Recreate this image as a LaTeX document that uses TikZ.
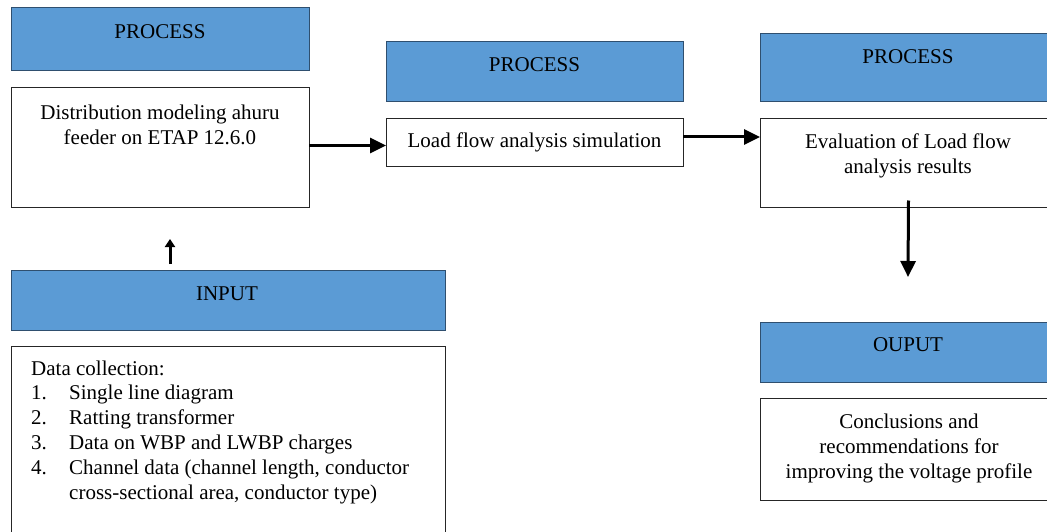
\documentclass[tikz,border=0pt]{standalone}
\usepackage{fontspec}
\setmainfont{Liberation Serif}
\usetikzlibrary{arrows.meta}
\definecolor{hdrblue}{HTML}{5B9BD5}
\definecolor{hdrline}{HTML}{2F4F6F}
\tikzset{
  hdrbox/.style={draw=hdrline, fill=hdrblue, line width=1pt, inner sep=0pt, outer sep=0pt},
  whitebox/.style={draw=black!85, fill=white, line width=1pt, inner sep=0pt, outer sep=0pt},
  txt/.style={inner sep=0pt, font=\fontsize{21}{24.8}\selectfont, align=center},
  ltxt/.style={inner sep=0pt, font=\fontsize{21}{24.8}\selectfont, anchor=base west},
  flow/.style={line width=3pt, -{Triangle[length=16pt,width=15pt]}},
  smallflow/.style={line width=3pt, -{Triangle[length=8pt,width=10pt]}}
}
\begin{document}
\begin{tikzpicture}[x=1pt,y=-1pt]
\useasboundingbox (0,0) rectangle (1047,532);
\begin{scope}
\clip (0,0) rectangle (1047,532);
% column 1
\node[hdrbox, minimum width=298, minimum height=63] (h1) at (160,39.5) {};
\node[txt] (h1t) at (160,32) {PROCESS};
\node[whitebox, minimum width=298, minimum height=120] (b1) at (160,147.5) {};
\node[txt] (b1t) at (160,125) {Distribution modeling ahuru\\feeder on ETAP 12.6.0};
% column 2
\node[hdrbox, minimum width=297, minimum height=60] (h2) at (534.5,72) {};
\node[txt] (h2t) at (534.5,65) {PROCESS};
\node[whitebox, minimum width=297, minimum height=48] (b2) at (534.5,143) {};
\node[txt] (b2t) at (534.5,142.5) {Load flow analysis simulation};
% column 3
\node[hdrbox, minimum width=297, minimum height=68] (h3) at (908.5,68) {};
\node[txt] (h3t) at (908,57) {PROCESS};
\node[whitebox, minimum width=297, minimum height=89] (b3) at (908.5,163) {};
\node[txt] (b3t) at (908,155.5) {Evaluation of Load flow\\analysis results};
\node[hdrbox, minimum width=297, minimum height=60] (h4) at (908.5,352) {};
\node[txt] (h4t) at (908,345) {OUPUT};
\node[whitebox, minimum width=297, minimum height=102] (b4) at (908.5,449) {};
\node[txt] (b4t) at (909,448.5) {Conclusions and\\recommendations for\\improving the voltage profile};
% input
\node[hdrbox, minimum width=434, minimum height=60] (h5) at (228,300) {};
\node[txt] (h5t) at (227,294) {INPUT};
\node[whitebox, minimum width=434, minimum height=200] (b5) at (228,446) {};
\node[ltxt] (l0) at (31,375) {Data collection:};
\node[ltxt] (l1) at (31,399.8) {1.};
\node[ltxt] (l1b) at (69,399.8) {Single line diagram};
\node[ltxt] (l2) at (31,424.6) {2.};
\node[ltxt] (l2b) at (69,424.6) {Ratting transformer};
\node[ltxt] (l3) at (31,449.4) {3.};
\node[ltxt] (l3b) at (69,449.4) {Data on WBP and LWBP charges};
\node[ltxt] (l4) at (31,474.2) {4.};
\node[ltxt] (l4b) at (69,474.2) {Channel data (channel length, conductor};
\node[ltxt] (l4c) at (69,499) {cross-sectional area, conductor type)};
% connectors
\draw[flow] ([yshift=2pt]b1.east) -- ([yshift=2pt]b1.east -| b2.west);
\draw[flow] ([yshift=6pt]b2.east) -- ([yshift=6pt]b2.east -| b3.west);
\coordinate (c3) at (908,277);
\draw[flow] ([yshift=7pt]b3.south) -- (c3);
\coordinate (ia) at (170,264);
\coordinate (ib) at (170,239);
\draw[smallflow] (ia) -- (ib);
\end{scope}
\end{tikzpicture}
\end{document}
